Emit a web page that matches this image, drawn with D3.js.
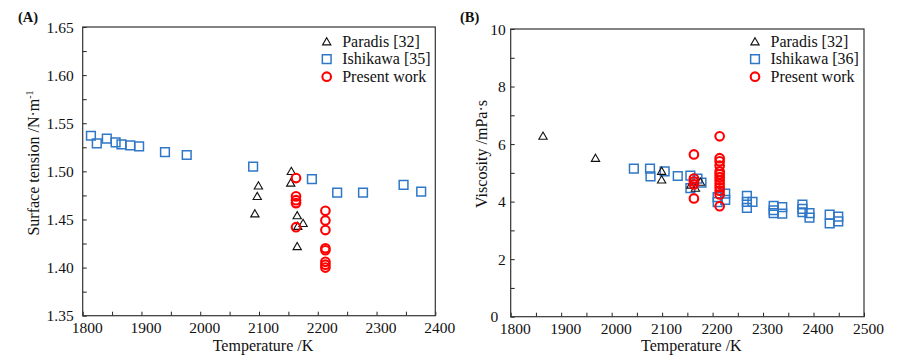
<!DOCTYPE html>
<html><head><meta charset="utf-8">
<script src="https://cdn.jsdelivr.net/npm/d3@7"></script>
<style>
html,body{margin:0;padding:0;background:#fff;}
svg{display:block;}
svg text{font-family:"Liberation Serif","Times New Roman",Times,serif;}
</style></head>
<body><svg id="c" width="904" height="363"></svg>
<script>
// ---------- data ----------
const legendA = ["Paradis [32]", "Ishikawa [35]", "Present work"];
const legendB = ["Paradis [32]", "Ishikawa [36]", "Present work"];

const paradisA = [[2093,1.456],[2097,1.474],[2099,1.485],[2154,1.488],[2155,1.500],[2165,1.454],[2166,1.443],[2175,1.446],[2165,1.422]];
const ishikawaA = [[1814,1.537],[1824,1.529],[1841,1.534],[1856,1.530],[1866,1.528],[1881,1.527],[1896,1.526],[1940,1.520],[1977,1.517],[2090,1.505],[2190,1.492],[2233,1.478],[2277,1.478],[2346,1.486],[2376,1.479]];
const presentA = [[2163,1.493],[2163,1.474],[2163,1.470],[2163,1.467],[2163,1.442],[2213,1.459],[2213,1.449],[2213,1.439],[2213,1.420],[2213,1.418],[2213,1.406],[2213,1.403],[2213,1.400]];

const paradisB = [[1864,6.28],[1968,5.51],[2099,5.06],[2099,4.76],[2157,4.58],[2166,4.47],[2176,4.68]];
const ishikawaB = [[2044,5.15],[2076,5.15],[2077,4.88],[2105,5.05],[2131,4.89],[2156,4.90],[2156,4.47],[2170,4.80],[2178,4.66],[2210,4.16],[2210,3.98],[2225,4.28],[2225,4.06],[2268,4.20],[2268,3.99],[2268,3.78],[2279,3.99],[2321,3.85],[2321,3.70],[2321,3.60],[2338,3.81],[2338,3.58],[2378,3.90],[2378,3.75],[2378,3.63],[2392,3.60],[2392,3.44],[2432,3.55],[2432,3.24],[2449,3.48],[2449,3.31]];
const presentB = [[2163,5.64],[2163,4.80],[2163,4.70],[2163,4.60],[2163,4.11],[2214,6.27],[2214,5.51],[2214,5.40],[2214,5.25],[2214,5.05],[2214,4.95],[2214,4.85],[2214,4.74],[2214,4.62],[2214,4.50],[2214,4.38],[2214,4.25],[2214,3.84]];

const xTicksA = [1800,1900,2000,2100,2200,2300,2400];
const yTicksA = [1.35,1.40,1.45,1.50,1.55,1.60,1.65];
const xTicksB = [1800,1900,2000,2100,2200,2300,2400,2500];
const yTicksB = [0,2,4,6,8,10];

// ---------- styles ----------
const SERIF = "Liberation Serif, Times New Roman, Times, serif";
const BLUE = "#2f78c8", RED = "#ff0000", BLACK = "#111";
const svg = d3.select("#c");

function panel(opt){
  const g = svg.append("g").attr("font-family", SERIF);
  const x = d3.scaleLinear().domain(opt.xd).range([opt.x0, opt.x1]);
  const y = d3.scaleLinear().domain(opt.yd).range([opt.y1, opt.y0]);

  // minor ticks
  g.append("g").attr("transform",`translate(0,${opt.y1})`)
    .call(d3.axisBottom(x).tickValues(opt.xMinor).tickSize(-4).tickFormat(""))
    .call(a=>{a.select(".domain").remove(); a.selectAll("line").attr("stroke","#222");});
  g.append("g").attr("transform",`translate(${opt.x0},0)`)
    .call(d3.axisLeft(y).tickValues(opt.yMinor).tickSize(-4).tickFormat(""))
    .call(a=>{a.select(".domain").remove(); a.selectAll("line").attr("stroke","#222");});

  // major axes
  const ax = g.append("g").attr("transform",`translate(0,${opt.y1})`)
    .call(d3.axisBottom(x).tickValues(opt.xTicks).tickSize(-4).tickPadding(0).tickFormat(d3.format("d")));
  ax.attr("font-family", SERIF);
  ax.select(".domain").remove();
  ax.selectAll("line").attr("stroke","#222");
  ax.selectAll("text").attr("fill","#111").attr("font-size",15.5).attr("font-family",SERIF)
    .attr("y",17).attr("dy",0).attr("dx",4);

  const ay = g.append("g").attr("transform",`translate(${opt.x0},0)`)
    .call(d3.axisLeft(y).tickValues(opt.yTicks).tickSize(-4).tickFormat(opt.yFmt));
  ay.attr("font-family", SERIF);
  ay.select(".domain").remove();
  ay.selectAll("line").attr("stroke","#222");
  ay.selectAll("text").attr("fill","#111").attr("font-size",15.5).attr("font-family",SERIF)
    .attr("x",d=> -(d===opt.yd[0] && opt.firstGap ? opt.firstGap : opt.yLabGap)).attr("dy","0.33em");

  // frame
  g.append("rect").attr("x",opt.x0).attr("y",opt.y0).attr("width",opt.x1-opt.x0).attr("height",opt.y1-opt.y0)
    .attr("fill","none").attr("stroke","#333").attr("stroke-width",1.2);

  // markers
  const tri = d3.symbol().type(d3.symbolTriangle).size(30);
  const sq = d3.symbol().type(d3.symbolSquare).size(76);
  const drawTri = (sel)=>sel.attr("d",tri).attr("fill","none").attr("stroke",BLACK).attr("stroke-width",1.1);
  const drawSq = (sel)=>sel.attr("d",sq).attr("fill","none").attr("stroke",BLUE).attr("stroke-width",1.5);
  const drawCi = (sel)=>sel.attr("r",4.3).attr("fill","none").attr("stroke",RED).attr("stroke-width",2.1);

  g.append("g").selectAll("path").data(opt.ish).join("path")
    .attr("transform",d=>`translate(${x(d[0])},${y(d[1])})`).call(drawSq);
  g.append("g").selectAll("path").data(opt.par).join("path")
    .attr("transform",d=>`translate(${x(d[0])},${y(d[1])+0.8})`).call(drawTri);
  g.append("g").selectAll("circle").data(opt.pre).join("circle")
    .attr("cx",d=>x(d[0])).attr("cy",d=>y(d[1])).call(drawCi);

  // legend
  const lg = g.append("g");
  [0,1,2].forEach(i=>{
    const cy = opt.legY + i*17.5;
    if(i===0) lg.append("path").attr("transform",`translate(${opt.legX},${cy+0.8})`).call(drawTri);
    if(i===1) lg.append("path").attr("transform",`translate(${opt.legX},${cy})`).call(drawSq);
    if(i===2) lg.append("circle").attr("cx",opt.legX).attr("cy",cy).call(drawCi);
    lg.append("text").attr("x",opt.legX+15.5).attr("y",cy+5).attr("font-size",16)
      .attr("font-family",SERIF).attr("fill","#111").text(opt.legend[i]);
  });

  // titles
  g.append("text").attr("x",(opt.x0+opt.x1)/2+4).attr("y",350.5).attr("text-anchor","middle")
    .attr("font-size",16).attr("font-family",SERIF).attr("fill","#111").text("Temperature /K");
  const yt = g.append("text").attr("transform",`translate(${opt.ytX},${opt.ytY}) rotate(-90)`)
    .attr("text-anchor","middle").attr("font-size",16).attr("font-family",SERIF).attr("fill","#111");
  yt.append("tspan").text(opt.yTitle);
  if(opt.ySup){ yt.append("tspan").attr("dy",-6).attr("font-size",10).text(opt.ySup); }

  svg.append("text").attr("x",opt.tagX).attr("y",22).attr("font-size",14.5).attr("font-weight","bold")
    .attr("font-family",SERIF).attr("fill","#111").text(opt.tag);
}

panel({
  x0:82.7, x1:435.3, y0:27, y1:315.7,
  xd:[1800,2400], yd:[1.35,1.65],
  xTicks:xTicksA, yTicks:yTicksA,
  xMinor:d3.range(1850,2400,100), yMinor:d3.range(1.375,1.65,0.05),
  yFmt:d3.format(".2f"), yLabGap:9, firstGap:0,
  ish:ishikawaA, par:paradisA, pre:presentA,
  legX:326.7, legY:41.7, legend:legendA,
  yTitle:"Surface tension /N·m", ySup:"-1", ytX:39, ytY:163,
  tag:"(A)", tagX:18
});
panel({
  x0:510.7, x1:864, y0:29, y1:316.7,
  xd:[1800,2500], yd:[0,10],
  xTicks:xTicksB, yTicks:yTicksB,
  xMinor:d3.range(1850,2500,100), yMinor:d3.range(1,10,2),
  yFmt:d3.format("d"), yLabGap:5, firstGap:12.5,
  ish:ishikawaB, par:paradisB, pre:presentB,
  legX:755, legY:41.7, legend:legendB,
  yTitle:"Viscosity /mPa·s", ySup:null, ytX:487, ytY:154,
  tag:"(B)", tagX:460
});
</script></body></html>
